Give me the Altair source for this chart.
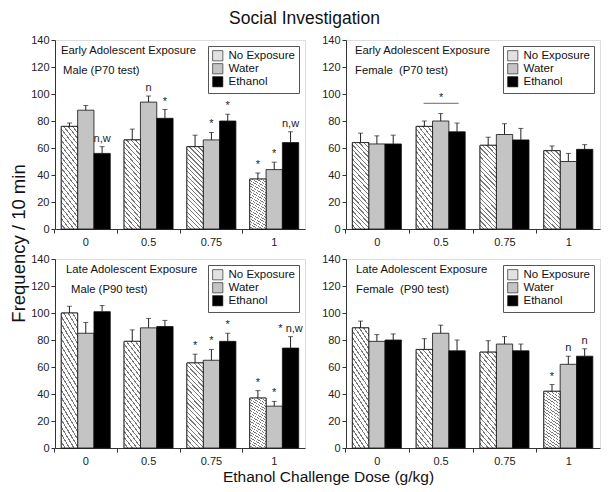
import altair as alt
import pandas as pd

FONT = "Liberation Sans"

doses = ["0", "0.5", "0.75", "1"]
groups = ["No Exposure", "Water", "Ethanol"]
group_colors = ["#e2e2e2", "#c4c4c4", "#000000"]

panel_line1 = ["Early Adolescent Exposure", "Early Adolescent Exposure",
               "Late Adolescent Exposure", "Late Adolescent Exposure"]
panel_line2 = ["Male (P70 test)", "Female\u00a0 (P70 test)",
               "Male (P90 test)", "Female\u00a0 (P90 test)"]

# values ordered dose-major, group-minor
male_p70_mean = [76, 88, 56, 66, 94, 82, 61, 66, 80, 37, 44, 64]
male_p70_err = [2.5, 3.5, 5, 8, 4.5, 6.5, 8.5, 5.5, 5, 4.5, 5.5, 8]
male_p70_lab = ["", "", "n,w", "", "n", "*", "", "*", "*", "*", "*", "n,w"]

female_p70_mean = [64, 63, 63, 76, 80, 72, 62, 70, 66, 58, 50, 59]
female_p70_err = [7, 6, 6.5, 4, 5.5, 6.5, 6, 8, 8.5, 3.5, 6, 3.5]
female_p70_lab = [""] * 12

male_p90_mean = [100, 85, 101, 79, 89, 90, 63, 65, 79, 37, 31, 74]
male_p90_err = [5, 8, 4.5, 8.5, 7, 4.5, 6.5, 8, 6, 5.5, 3.5, 8.5]
male_p90_lab = ["", "", "", "", "", "", "*", "*", "*", "*", "*", "* n,w"]

female_p90_mean = [89, 79, 80, 73, 85, 72, 71, 77, 72, 42, 62, 68]
female_p90_err = [5, 5, 4.5, 8, 6, 8, 8.5, 5.5, 5, 5, 6, 5.5]
female_p90_lab = ["", "", "", "", "", "", "", "", "", "*", "n", "n"]

# significance bar in the female P70 panel
sig_dose = ["0.5"]
sig_value = [93]
sig_label = ["*"]


def stripes(n=22, ratio=5.0, light="#ffffff", dark="#7a7a7a", frac=0.28):
    a = (1 + ratio) / (1 + ratio ** 2)
    b = ratio * a
    stops = []
    for i in range(n):
        s = i / n
        m = (i + 1 - frac) / n
        e = (i + 1) / n
        stops += [{"offset": s, "color": light}, {"offset": m, "color": light},
                  {"offset": m, "color": dark}, {"offset": e, "color": dark}]
    return {"gradient": "linear", "x1": 0, "y1": 1, "x2": a, "y2": 1 - b,
            "stops": stops}


HATCH = stripes()


def panel(mean, err, labels, idx, width, height, tx, ytitle=False, xtitle=False,
          sig=False):
    df = pd.DataFrame({
        "dose": [d for d in doses for _ in groups],
        "group": groups * len(doses),
        "mean": mean,
        "top": [m + e for m, e in zip(mean, err)],
        "label": labels,
    })
    xaxis_kw = dict(labelAngle=0, tickSize=4, bandPosition=-0.14,
                    labelFontSize=11, labelColor="#222", labelFont=FONT,
                    domainColor="#333", tickColor="#333", labelPadding=3)
    if xtitle:
        xaxis_kw.update(title="Ethanol Challenge Dose (g/kg)", titleX=273,
                        titleY=28, titleBaseline="middle", titleAlign="center",
                        titleFontSize=15.5, titleFontWeight="normal",
                        titleFont=FONT, titleColor="#111")
    else:
        xaxis_kw.update(title="")
    x = alt.X("dose:N", sort=doses,
              scale=alt.Scale(domain=doses, paddingInner=0.22, paddingOuter=0.1),
              axis=alt.Axis(**xaxis_kw))
    xo = alt.XOffset("group:N", sort=groups,
                     scale=alt.Scale(domain=groups, paddingInner=0, paddingOuter=0))

    yaxis_kw = dict(values=list(range(0, 141, 20)), tickSize=4, labelFontSize=11,
                    labelColor="#222", labelFont=FONT, domainColor="#333",
                    tickColor="#333", grid=False, labelPadding=2)
    if ytitle:
        yaxis_kw.update(title="Frequency / 10 min", titleX=-37, titleY=203,
                        titleBaseline="middle", titleAlign="center",
                        titleFontSize=18.5, titleFontWeight="normal",
                        titleFont=FONT, titleColor="#111")
    else:
        yaxis_kw.update(title="")
    yaxis = alt.Axis(**yaxis_kw)
    yscale = alt.Scale(domain=[0, 140], nice=False)

    base = alt.Chart(df).encode(x=x, xOffset=xo)

    bars = base.mark_bar(stroke="#111", strokeWidth=0.8).encode(
        y=alt.Y("mean:Q", scale=yscale, axis=yaxis),
        fill=alt.Fill("group:N", sort=groups,
                      scale=alt.Scale(domain=groups, range=group_colors),
                      legend=alt.Legend(title=None, orient="top-right", offset=6,
                                        symbolType="square", symbolSize=105,
                                        symbolStrokeColor="#111",
                                        symbolStrokeWidth=0.6,
                                        labelFontSize=11.5, labelFont=FONT,
                                        labelColor="#111", rowPadding=-2,
                                        padding=4, strokeColor="#555",
                                        fillColor="white", labelOffset=5)),
    )
    hatch = base.transform_filter(alt.datum.group == groups[0]).mark_bar(
        fill=HATCH, stroke="#111", strokeWidth=0.8).encode(
        y=alt.Y("mean:Q", scale=yscale, axis=yaxis))
    whisk = base.mark_rule(color="#222", strokeWidth=1).encode(
        y=alt.Y("mean:Q", scale=yscale, axis=yaxis), y2="top:Q")
    caps = base.mark_tick(orient="horizontal", size=5, thickness=1,
                          color="#222").encode(
        y=alt.Y("top:Q", scale=yscale, axis=yaxis))
    notes = base.mark_text(fontSize=11, font=FONT, color="#222", fill="#222",
                           baseline="alphabetic", dy=-5).encode(
        y=alt.Y("top:Q", scale=yscale, axis=yaxis), text="label:N")

    tdf = pd.DataFrame({"t": [panel_line1[idx], panel_line2[idx]],
                        "row": [0, 1]})
    head1 = alt.Chart(tdf).transform_filter(alt.datum.row == 0).mark_text(
        align="left", baseline="middle", fontSize=11.3, font=FONT,
        color="#111").encode(text="t:N", x=alt.value(tx[0]), y=alt.value(11))
    head2 = alt.Chart(tdf).transform_filter(alt.datum.row == 1).mark_text(
        align="left", baseline="middle", fontSize=11.3, font=FONT,
        color="#111").encode(text="t:N", x=alt.value(tx[1]), y=alt.value(31))

    layers = [bars, hatch, whisk, caps, notes, head1, head2]
    if sig:
        sdf = pd.DataFrame({"dose": sig_dose, "v": sig_value, "lab": sig_label})
        sline = alt.Chart(sdf).mark_tick(orient="horizontal", size=35,
                                         thickness=1.3, color="#555").encode(
            x=x, y=alt.Y("v:Q", scale=yscale, axis=yaxis))
        sstar = alt.Chart(sdf).mark_text(fontSize=11, font=FONT, color="#222",
                                         dy=-5).encode(
            x=x, y=alt.Y("v:Q", scale=yscale, axis=yaxis), text="lab:N")
        layers += [sline, sstar]
    return alt.layer(*layers).properties(width=width, height=height)


tl = panel(male_p70_mean, male_p70_err, male_p70_lab, 0, 250, 189, (6, 8),
           ytitle=True)
tr = panel(female_p70_mean, female_p70_err, female_p70_lab, 1, 254, 189, (9, 9),
           sig=True)
bl = panel(male_p90_mean, male_p90_err, male_p90_lab, 2, 250, 189, (11, 16),
           xtitle=True)
br = panel(female_p90_mean, female_p90_err, female_p90_lab, 3, 254, 189, (10, 10))

chart = alt.concat(tl, tr, bl, br, columns=2,
                   spacing=alt.RowColnumber(row=30, column=41),
                   bounds="flush").resolve_scale(
    fill="independent").resolve_legend(fill="independent").properties(
    title=alt.TitleParams("Social Investigation", fontSize=17.5, font=FONT,
                          fontWeight="normal", color="#111", anchor="middle",
                          offset=6),
    padding={"left": 0, "top": 2, "right": 0, "bottom": 0},
).configure_view(stroke="#777", strokeWidth=1).configure(background="white")

chart.save("out.html", embed_options={"renderer": "svg", "actions": False})
